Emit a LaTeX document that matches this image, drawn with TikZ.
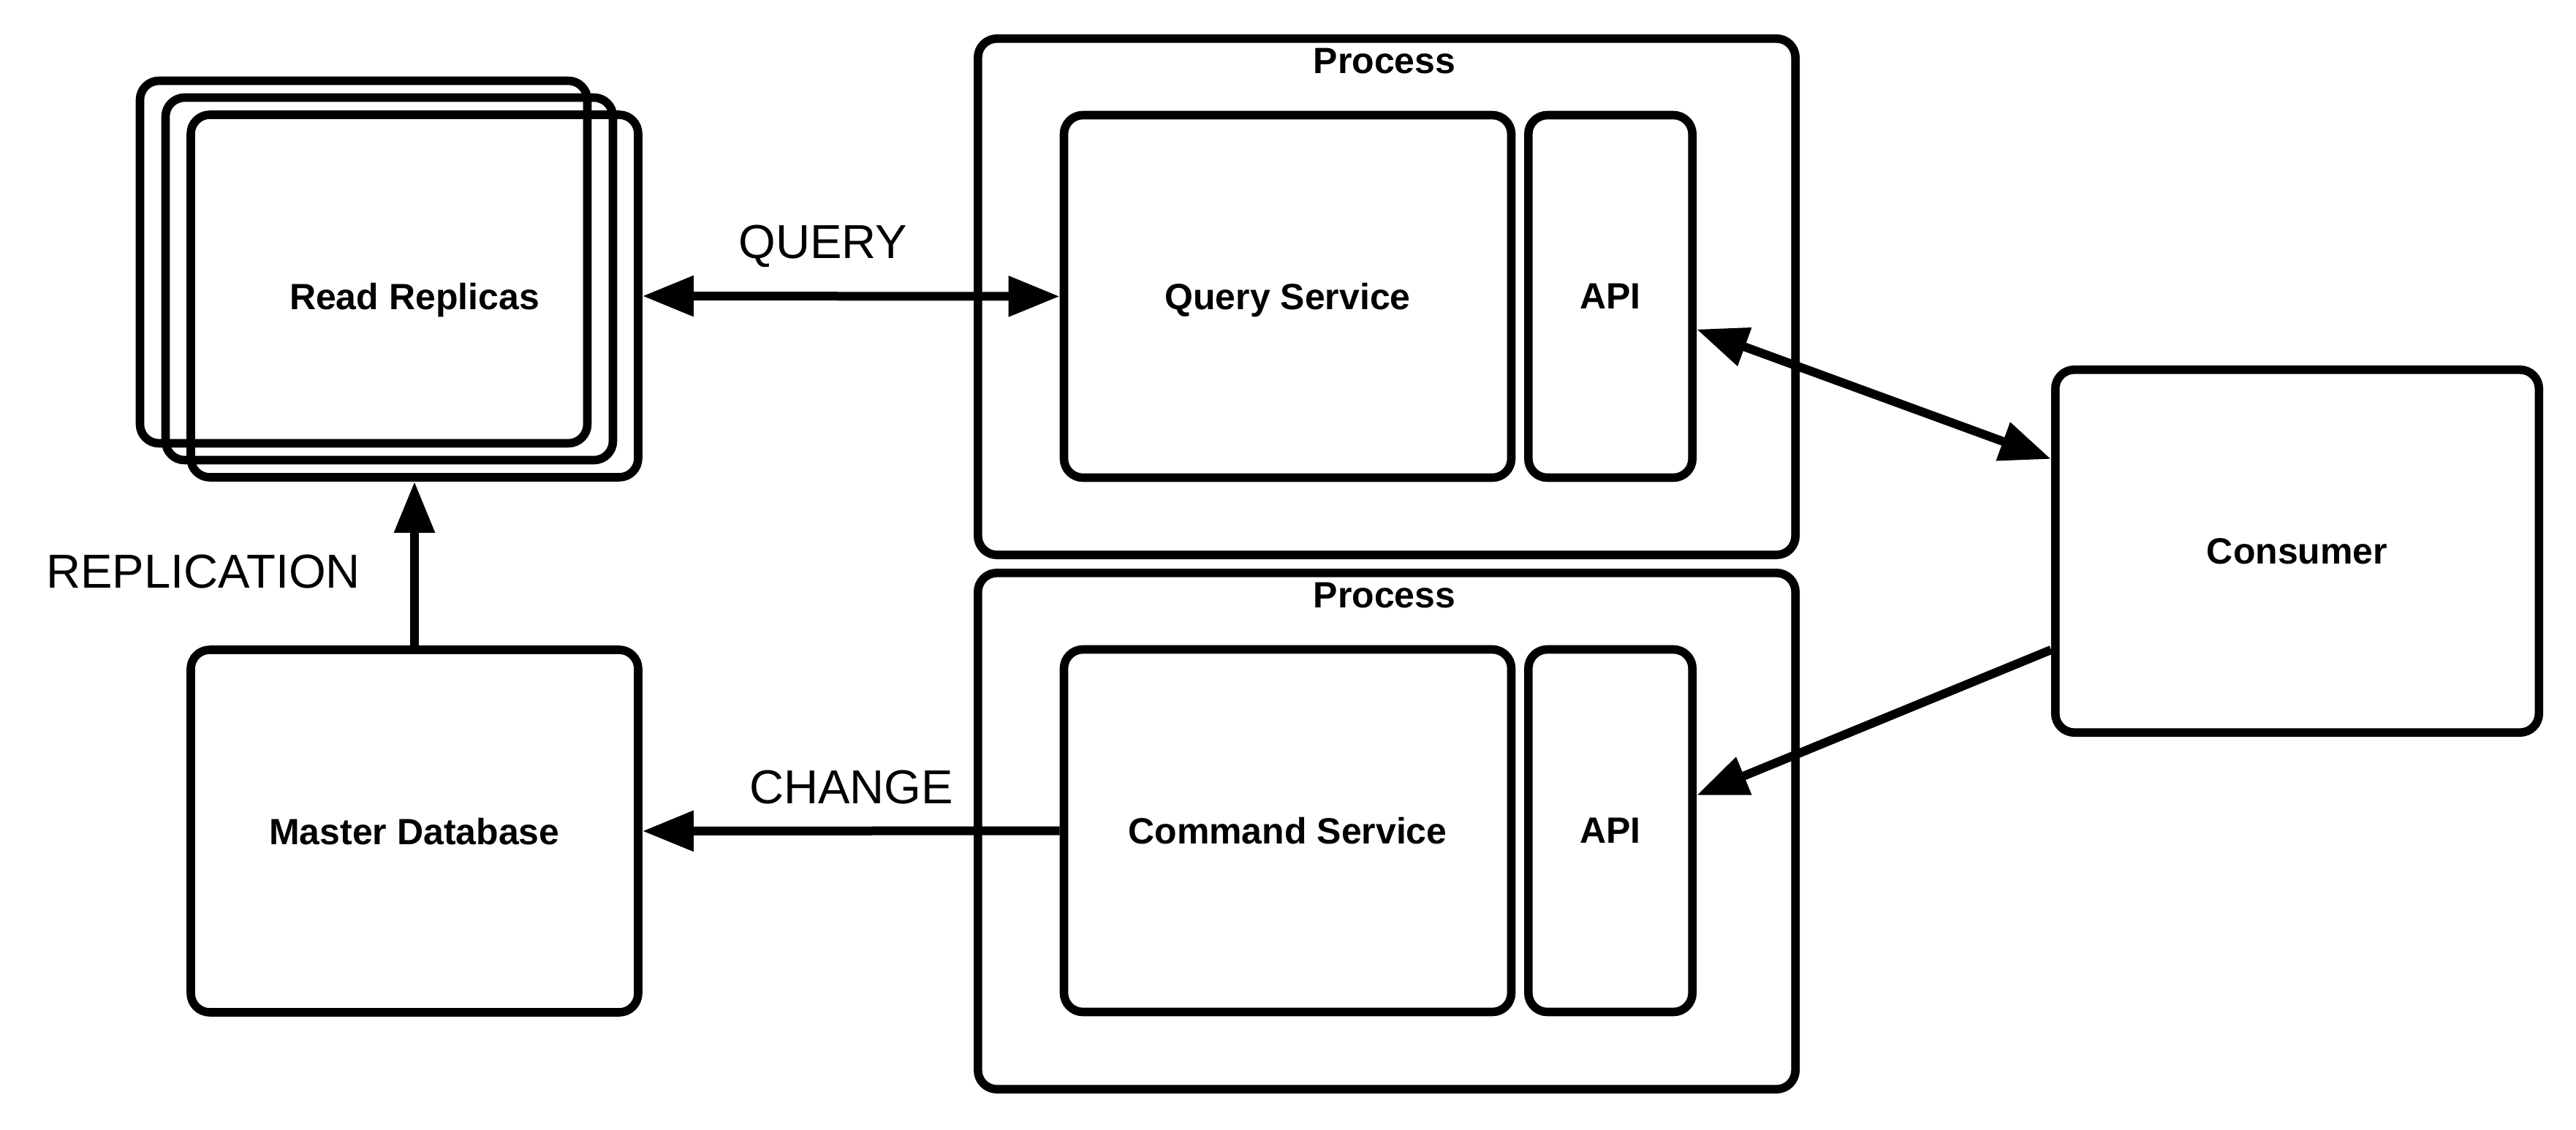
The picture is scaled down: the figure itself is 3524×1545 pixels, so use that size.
\documentclass[tikz,border=0pt]{standalone}
\usepackage{fontspec}
\setmainfont{Liberation Sans}
\usetikzlibrary{arrows.meta}
\begin{document}
\begin{tikzpicture}[x=0.25pt,y=-0.25pt,
  box/.style={draw, line width=2.9pt, rounded corners=6.5pt, inner sep=0pt,
    text depth=0pt, font=\bfseries\fontsize{12.5}{14}\selectfont},
  rbox/.style={box, minimum width=153pt, minimum height=124pt},
  pbox/.style={box, minimum width=279.6pt, minimum height=176.6pt},
  abox/.style={box, minimum width=56.1pt, minimum height=124pt},
  cbox/.style={box, minimum width=165.4pt, minimum height=124.1pt},
  ttl/.style={font=\bfseries\fontsize{12.5}{14}\selectfont, inner sep=0pt},
  lbl/.style={font=\fontsize{16.3}{18}\selectfont, inner sep=0pt},
  tip/.tip={Triangle[length=17.5pt,width=13.25pt]},
  arr/.style={line width=3pt, -tip},
  darr/.style={line width=3pt, tip-tip},
]
\fill[white] (0,0) rectangle (3524,1545);
\useasboundingbox (0,0) rectangle (3524,1545);

% Read replicas stack
\node[rbox] (rr3) at (497.5,358.5) {};
\node[rbox] (rr2) at (532.5,381.5) {};
\node[rbox] (rr1) at (567,405) {Read Replicas};

% Master database
\node[rbox] (mdb) at (567,1137) {Master Database};

% Processes
\node[pbox] (p1) at (1897,406) {};
\node[ttl] (p1t) at (1894,84) {Process};
\node[rbox] (qs) at (1761.5,405.5) {Query Service};
\node[abox] (api1) at (2203,405.5) {API};

\node[pbox] (p2) at (1897,1137) {};
\node[ttl] (p2t) at (1894,815) {Process};
\node[rbox] (cs) at (1761.5,1136.5) {Command Service};
\node[abox] (api2) at (2203,1136.5) {API};

% Consumer
\node[cbox] (con) at (3142.5,754) {Consumer};

% Connectors
\draw[darr] (rr1.east) -- (qs.west);
\node[lbl] (lq) at (1126,337) {QUERY};

\draw[arr] (cs.west) -- (mdb.east);
\node[lbl] (lc) at (1164.5,1077) {CHANGE};

\draw[arr] (mdb.north) -- (rr1.south);
\node[lbl] (lr) at (278,782) {REPLICATION};

\draw[darr] ([yshift=-11.25pt]api1.east) -- ([yshift=31.5pt]con.west);
\draw[arr] ([yshift=-33.75pt]con.west) -- ([yshift=12.1pt]api2.east);
\end{tikzpicture}
\end{document}
